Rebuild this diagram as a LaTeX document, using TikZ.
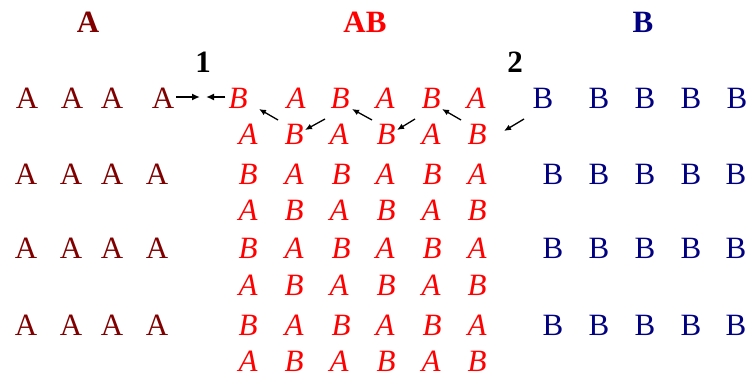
\documentclass[tikz,border=0pt]{standalone}
\usepackage{fontspec}
\setmainfont{Liberation Serif}
\usetikzlibrary{arrows.meta}
\definecolor{phaseA}{HTML}{800000}
\definecolor{phaseAB}{HTML}{FF0000}
\definecolor{phaseB}{HTML}{000080}
\begin{document}
\begin{tikzpicture}[x=1pt,y=-1pt,
  letter/.style={inner sep=0pt,font=\fontsize{31}{31}\selectfont},
  aatom/.style={letter,text=phaseA},
  abatom/.style={letter,text=phaseAB,font=\fontsize{31}{31}\selectfont\itshape},
  batom/.style={letter,text=phaseB},
  header/.style={letter,font=\fontsize{31}{31}\selectfont\bfseries},
  flow/.style={-{Latex[length=8pt,width=7pt]},line width=1.6pt,black},
  hop/.style={-{Latex[length=7pt,width=6pt]},line width=1.3pt,black}]
\useasboundingbox (0,0) rectangle (747,377);

% phase labels
\node[header,text=phaseA]  (hA)  at (88,22)  {A};
\node[header,text=phaseAB] (hAB) at (365,22) {AB};
\node[header,text=phaseB]  (hB)  at (643,22) {B};
\node[header] (n1) at (203,62) {1};
\node[header] (n2) at (515,62) {2};

% pure A region
\node[aatom] (a11) at (27,98)  {A};
\node[aatom] (a12) at (72,98)  {A};
\node[aatom] (a13) at (112,98) {A};
\node[aatom] (a14) at (163,98) {A};
\foreach \r/\y in {2/174,3/248,4/325}{
  \foreach \c/\x in {1/26,2/71,3/112,4/157}{
    \node[aatom] (a\r\c) at (\x,\y) {A};
  }
}

% ordered AB region
\node[abatom] (m11) at (238,98) {B};
\node[abatom] (m12) at (296,98) {A};
\node[abatom] (m13) at (340,98) {B};
\node[abatom] (m14) at (385,98) {A};
\node[abatom] (m15) at (431,98) {B};
\node[abatom] (m16) at (476,98) {A};
\foreach \r/\y in {3/174,5/248,7/325}{
  \foreach \c/\x/\t in {1/248/B,2/294/A,3/341/B,4/385/A,5/432/B,6/477/A}{
    \node[abatom] (m\r\c) at (\x,\y) {\t};
  }
}
\foreach \r/\y in {2/134,4/210,6/285,8/361}{
  \foreach \c/\x/\t in {1/248/A,2/294/B,3/339/A,4/386/B,5/431/A,6/477/B}{
    \node[abatom] (m\r\c) at (\x,\y) {\t};
  }
}

% pure B region
\node[batom] (b11) at (543,98) {B};
\node[batom] (b12) at (599,98) {B};
\node[batom] (b13) at (645,98) {B};
\node[batom] (b14) at (691,98) {B};
\node[batom] (b15) at (737,98) {B};
\foreach \r/\y in {2/174,3/248,4/325}{
  \foreach \c/\x in {1/553,2/599,3/645,4/691,5/736}{
    \node[batom] (b\r\c) at (\x,\y) {B};
  }
}

% interface 1: atoms moving towards each other
\coordinate (meet1) at (203,97);
\draw[flow] (a14.east) ++(2,-1) coordinate (s1) -- ([xshift=-3pt]meet1);
\draw[flow] (m11.west) ++(-3,-1) coordinate (s2) -- ([xshift=3pt]meet1);

% interface 2: zigzag diffusion path
\coordinate (p1s) at (278,120); \coordinate (p1e) at (259,109);
\coordinate (p2s) at (325,119); \coordinate (p2e) at (305,130);
\coordinate (p3s) at (372,120); \coordinate (p3e) at (352,109);
\coordinate (p4s) at (415,119); \coordinate (p4e) at (397,130);
\coordinate (p5s) at (461,120); \coordinate (p5e) at (442,109);
\coordinate (p6s) at (524,119); \coordinate (p6e) at (504,131);
\foreach \i in {1,...,6}{
  \draw[hop] (p\i s) -- (p\i e);
}
\end{tikzpicture}
\end{document}
